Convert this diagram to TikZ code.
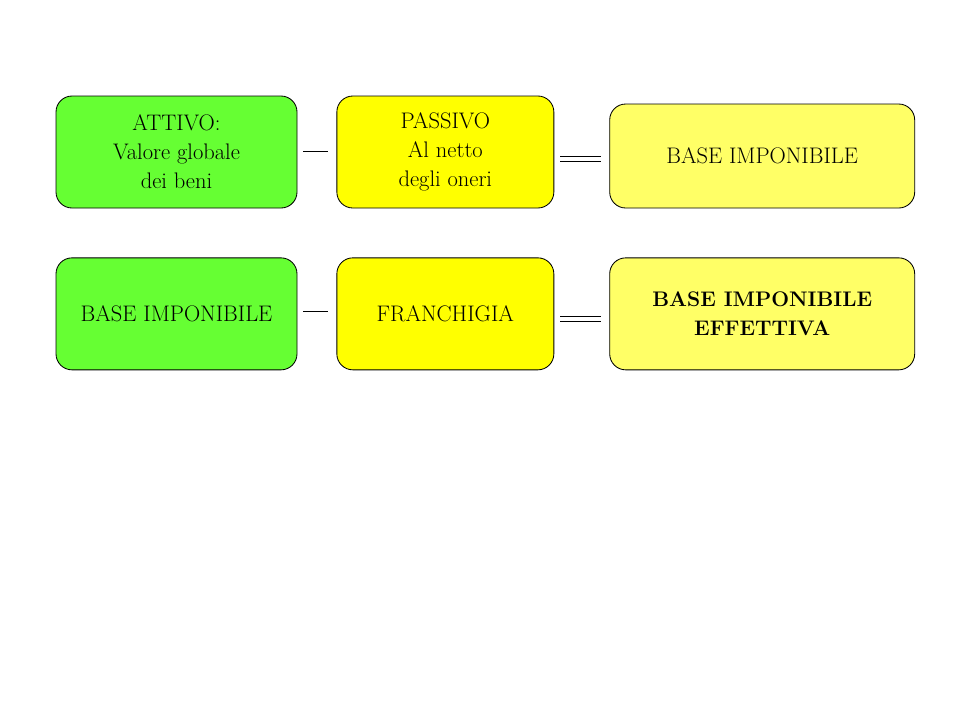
\documentclass[tikz,border=0pt]{standalone}
\usetikzlibrary{positioning}

\definecolor{boxgreen}{HTML}{66FF33}
\definecolor{boxyellow}{HTML}{FFFF00}
\definecolor{boxlight}{HTML}{FFFF66}

\begin{document}
\begin{tikzpicture}[
    every node/.style={font=\fontsize{16}{20.6}\selectfont, align=center},
    box/.style={rectangle, draw, line width=0.6pt, rounded corners=0.4cm, inner sep=0pt, minimum height=2.8cm},
    greenbox/.style={box, fill=boxgreen, minimum width=6.025cm},
    yellowbox/.style={box, fill=boxyellow, minimum width=5.425cm},
    lightbox/.style={box, fill=boxlight, minimum width=7.625cm},
    sign/.style={line width=0.7pt}
]
    \useasboundingbox (0,0) rectangle (24,-18);

    % first row
    \node[greenbox] (attivo) at (4.4125,-3.8) {ATTIVO:\\Valore globale\\dei beni};
    \node[yellowbox, right=0.975cm of attivo] (passivo) {PASSIVO\\Al netto\\ degli oneri};
    \node[lightbox, minimum height=2.6cm, right=1.375cm of passivo.south east, anchor=south west] (base) {BASE IMPONIBILE};

    % second row
    \node[greenbox, below=1.225cm of attivo] (base2) {BASE IMPONIBILE};
    \node[yellowbox, right=0.975cm of base2] (franchigia) {FRANCHIGIA};
    \node[lightbox, right=1.375cm of franchigia, font=\fontsize{15}{20.6}\selectfont\bfseries] (effettiva) {BASE IMPONIBILE\\EFFETTIVA};

    % minus and equals signs
    \draw[sign] ([xshift=0.15cm, yshift=0.025cm]attivo.east) -- ++(0.625,0);
    \draw[sign] ([xshift=0.15cm, yshift=-0.1cm]passivo.east) -- ++(1.025,0);
    \draw[sign] ([xshift=0.15cm, yshift=-0.225cm]passivo.east) -- ++(1.025,0);
    \draw[sign] ([xshift=0.15cm, yshift=0.05cm]base2.east) -- ++(0.625,0);
    \draw[sign] ([xshift=0.15cm, yshift=-0.075cm]franchigia.east) -- ++(1.025,0);
    \draw[sign] ([xshift=0.15cm, yshift=-0.2cm]franchigia.east) -- ++(1.025,0);
\end{tikzpicture}
\end{document}
